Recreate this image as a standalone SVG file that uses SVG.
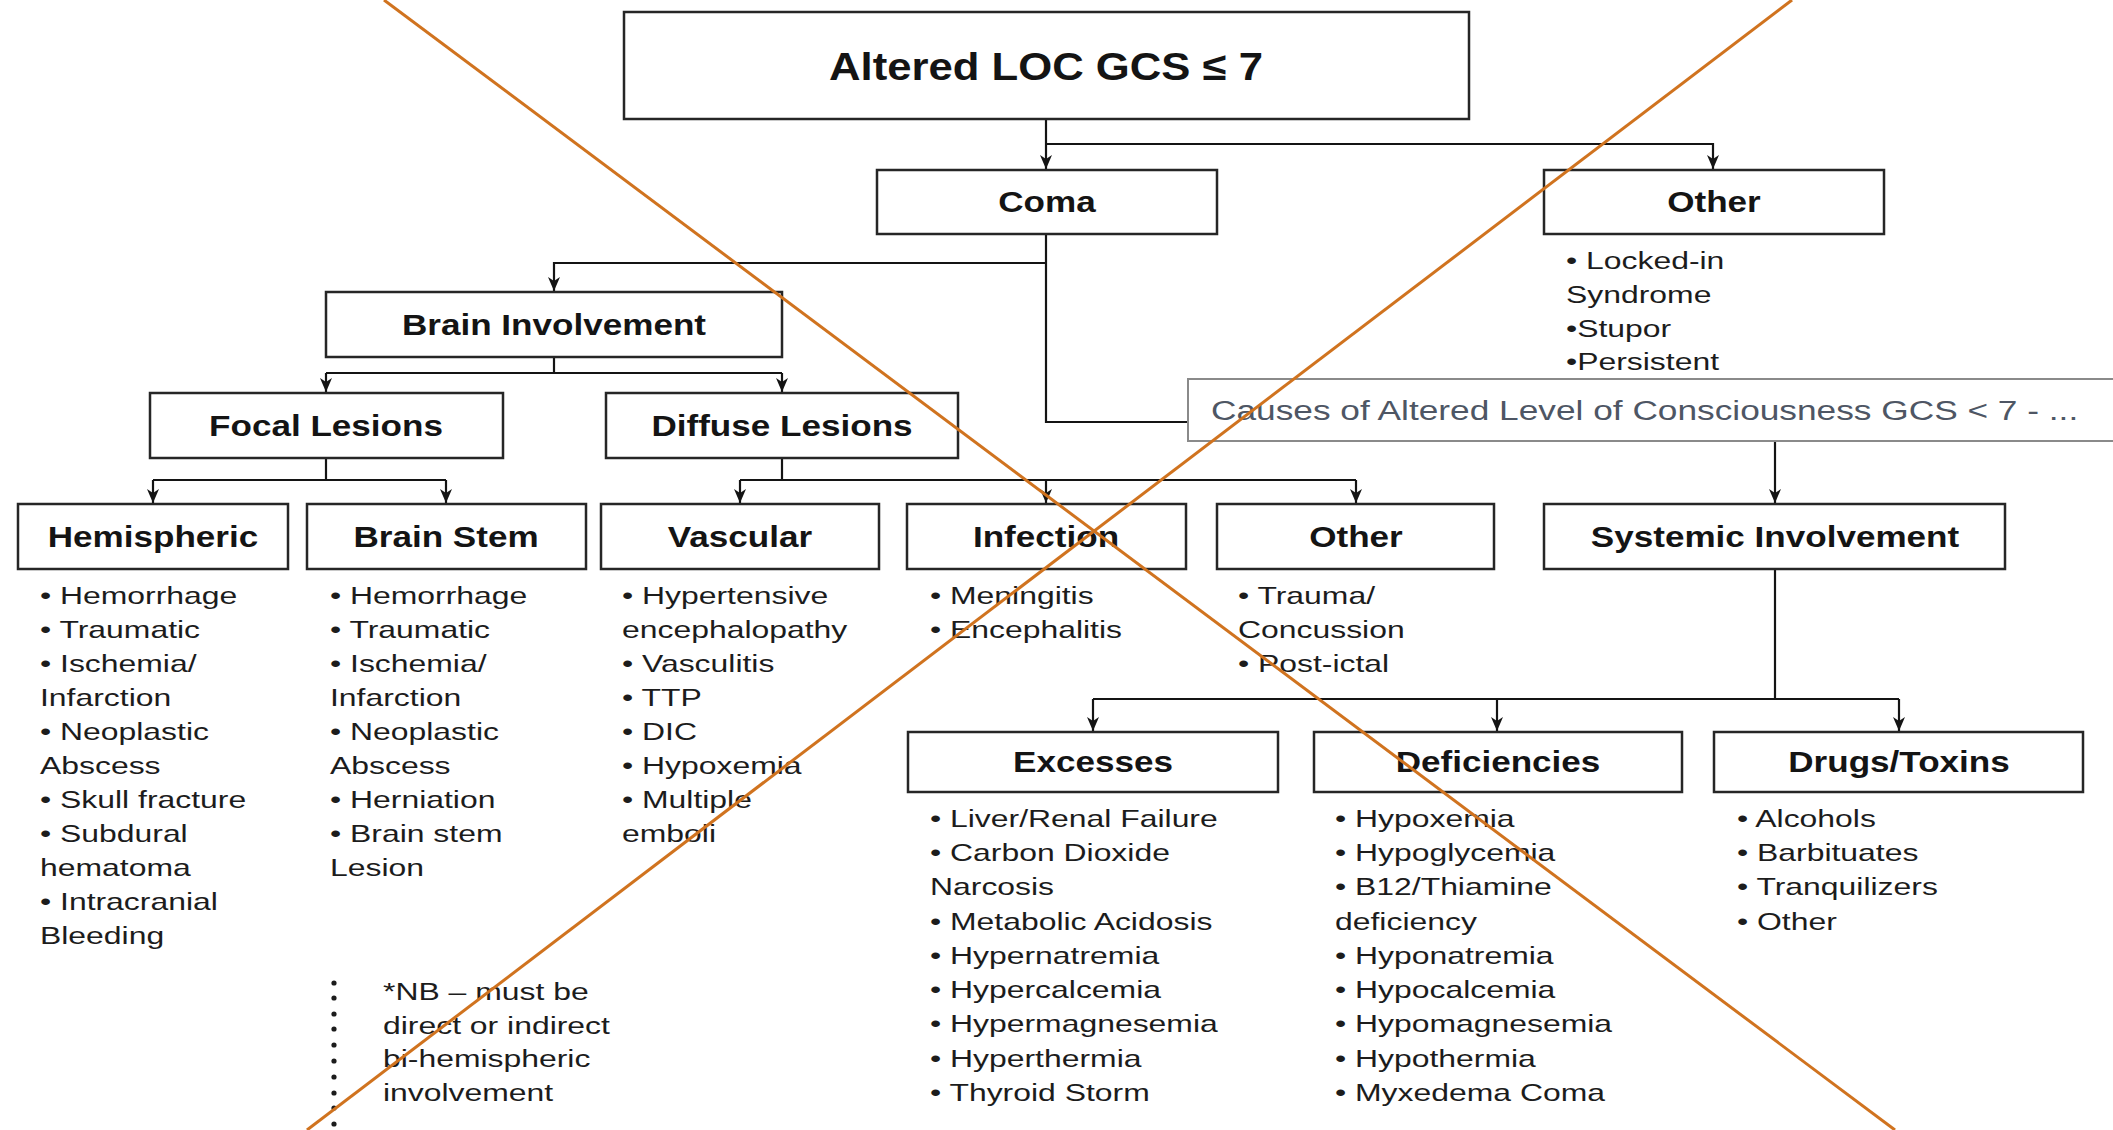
<svg xmlns="http://www.w3.org/2000/svg" width="2113" height="1130" viewBox="0 0 2113 1130">
<style>
.box{fill:#fff;stroke:#262626;stroke-width:2.5}
.lbl{font-family:"Liberation Sans",Arial,sans-serif;font-weight:bold;font-size:29px;fill:#141414;text-anchor:middle}
.ttl{font-family:"Liberation Sans",Arial,sans-serif;font-weight:bold;font-size:39px;fill:#141414;text-anchor:middle}
.it{font-family:"Liberation Sans",Arial,sans-serif;font-size:24px;fill:#1c1c1c}
.tip{font-family:"Liberation Sans",Arial,sans-serif;font-size:28px;fill:#4e5664}
.conn{stroke:#141414;stroke-width:2.2;fill:none}
.ar{stroke:#141414;stroke-width:2.2;fill:none;marker-end:url(#arr)}
.x{stroke:#d0731f;stroke-width:3;fill:none}
</style>
<defs>
<marker id="arr" markerUnits="userSpaceOnUse" markerWidth="15" markerHeight="12" refX="14" refY="6" viewBox="0 0 15 12" orient="auto">
<path d="M0,0 L14,6 L0,12 L4,6 Z" fill="#141414"/>
</marker>
</defs>
<rect width="2113" height="1130" fill="#fff"/>

<g id="connectors">
<path class="ar" d="M1046,119 V169"/>
<path class="ar" d="M1046,144 H1713 V169"/>
<path class="conn" d="M1046,234 V422 H1189"/>
<path class="ar" d="M1046,263 H554 V291"/>
<path class="ar" d="M1775,441 V503"/>
<path class="conn" d="M554,357 V373 M326,373 H782"/>
<path class="ar" d="M326,373 V392"/>
<path class="ar" d="M782,373 V392"/>
<path class="conn" d="M326,458 V480 M153,480 H446"/>
<path class="ar" d="M153,480 V503"/>
<path class="ar" d="M446,480 V503"/>
<path class="conn" d="M782,458 V480 M740,480 H1356"/>
<path class="ar" d="M740,480 V503"/>
<path class="ar" d="M1046,480 V503"/>
<path class="ar" d="M1356,480 V503"/>
<path class="conn" d="M1775,569 V699 M1093,699 H1899"/>
<path class="ar" d="M1093,699 V731"/>
<path class="ar" d="M1497,699 V731"/>
<path class="ar" d="M1899,699 V731"/>
</g>

<g id="root">
<rect class="box" x="624" y="12" width="845" height="107"/>
<g transform="translate(1046,80) scale(1.12,1)"><text class="ttl">Altered LOC GCS ≤ 7</text></g>
</g>

<g id="coma">
<rect class="box" x="877" y="170" width="340" height="64"/>
<g transform="translate(1047,212) scale(1.21,1)"><text class="lbl">Coma</text></g>
</g>

<g id="other-top">
<rect class="box" x="1544" y="170" width="340" height="64"/>
<g transform="translate(1714,212) scale(1.21,1)"><text class="lbl">Other</text></g>
<g transform="translate(1566,0) scale(1.33,1)">
<text class="it" x="0" y="269">• Locked-in</text>
<text class="it" x="0" y="303">Syndrome</text>
<text class="it" x="0" y="337">•Stupor</text>
<text class="it" x="0" y="370">•Persistent</text>
</g>
</g>

<g id="brain-involvement">
<rect class="box" x="326" y="292" width="456" height="65"/>
<g transform="translate(554,335) scale(1.21,1)"><text class="lbl">Brain Involvement</text></g>
</g>

<g id="focal">
<rect class="box" x="150" y="393" width="353" height="65"/>
<g transform="translate(326,436) scale(1.21,1)"><text class="lbl">Focal Lesions</text></g>
</g>

<g id="diffuse">
<rect class="box" x="606" y="393" width="352" height="65"/>
<g transform="translate(782,436) scale(1.21,1)"><text class="lbl">Diffuse Lesions</text></g>
</g>

<g id="hemispheric">
<rect class="box" x="18" y="504" width="270" height="65"/>
<g transform="translate(153,547) scale(1.21,1)"><text class="lbl">Hemispheric</text></g>
<g transform="translate(40,0) scale(1.33,1)">
<text class="it" x="0" y="604">• Hemorrhage</text>
<text class="it" x="0" y="638">• Traumatic</text>
<text class="it" x="0" y="672">• Ischemia/</text>
<text class="it" x="0" y="706">Infarction</text>
<text class="it" x="0" y="740">• Neoplastic</text>
<text class="it" x="0" y="774">Abscess</text>
<text class="it" x="0" y="808">• Skull fracture</text>
<text class="it" x="0" y="842">• Subdural</text>
<text class="it" x="0" y="876">hematoma</text>
<text class="it" x="0" y="910">• Intracranial</text>
<text class="it" x="0" y="944">Bleeding</text>
</g>
</g>

<g id="brain-stem">
<rect class="box" x="307" y="504" width="279" height="65"/>
<g transform="translate(446,547) scale(1.21,1)"><text class="lbl">Brain Stem</text></g>
<g transform="translate(330,0) scale(1.33,1)">
<text class="it" x="0" y="604">• Hemorrhage</text>
<text class="it" x="0" y="638">• Traumatic</text>
<text class="it" x="0" y="672">• Ischemia/</text>
<text class="it" x="0" y="706">Infarction</text>
<text class="it" x="0" y="740">• Neoplastic</text>
<text class="it" x="0" y="774">Abscess</text>
<text class="it" x="0" y="808">• Herniation</text>
<text class="it" x="0" y="842">• Brain stem</text>
<text class="it" x="0" y="876">Lesion</text>
</g>
</g>

<g id="vascular">
<rect class="box" x="601" y="504" width="278" height="65"/>
<g transform="translate(740,547) scale(1.21,1)"><text class="lbl">Vascular</text></g>
<g transform="translate(622,0) scale(1.33,1)">
<text class="it" x="0" y="604">• Hypertensive</text>
<text class="it" x="0" y="638">encephalopathy</text>
<text class="it" x="0" y="672">• Vasculitis</text>
<text class="it" x="0" y="706">• TTP</text>
<text class="it" x="0" y="740">• DIC</text>
<text class="it" x="0" y="774">• Hypoxemia</text>
<text class="it" x="0" y="808">• Multiple</text>
<text class="it" x="0" y="842">emboli</text>
</g>
</g>

<g id="infection">
<rect class="box" x="907" y="504" width="279" height="65"/>
<g transform="translate(1046,547) scale(1.21,1)"><text class="lbl">Infection</text></g>
<g transform="translate(930,0) scale(1.33,1)">
<text class="it" x="0" y="604">• Meningitis</text>
<text class="it" x="0" y="638">• Encephalitis</text>
</g>
</g>

<g id="other-mid">
<rect class="box" x="1217" y="504" width="277" height="65"/>
<g transform="translate(1356,547) scale(1.21,1)"><text class="lbl">Other</text></g>
<g transform="translate(1238,0) scale(1.33,1)">
<text class="it" x="0" y="604">• Trauma/</text>
<text class="it" x="0" y="638">Concussion</text>
<text class="it" x="0" y="672">• Post-ictal</text>
</g>
</g>

<g id="systemic">
<rect class="box" x="1544" y="504" width="461" height="65"/>
<g transform="translate(1775,547) scale(1.21,1)"><text class="lbl">Systemic Involvement</text></g>
</g>

<g id="excesses">
<rect class="box" x="908" y="732" width="370" height="60"/>
<g transform="translate(1093,772) scale(1.21,1)"><text class="lbl">Excesses</text></g>
<g transform="translate(930,0) scale(1.33,1)">
<text class="it" x="0" y="827">• Liver/Renal Failure</text>
<text class="it" x="0" y="861">• Carbon Dioxide</text>
<text class="it" x="0" y="895">Narcosis</text>
<text class="it" x="0" y="930">• Metabolic Acidosis</text>
<text class="it" x="0" y="964">• Hypernatremia</text>
<text class="it" x="0" y="998">• Hypercalcemia</text>
<text class="it" x="0" y="1032">• Hypermagnesemia</text>
<text class="it" x="0" y="1067">• Hyperthermia</text>
<text class="it" x="0" y="1101">• Thyroid Storm</text>
</g>
</g>

<g id="deficiencies">
<rect class="box" x="1314" y="732" width="368" height="60"/>
<g transform="translate(1498,772) scale(1.21,1)"><text class="lbl">Deficiencies</text></g>
<g transform="translate(1335,0) scale(1.33,1)">
<text class="it" x="0" y="827">• Hypoxemia</text>
<text class="it" x="0" y="861">• Hypoglycemia</text>
<text class="it" x="0" y="895">• B12/Thiamine</text>
<text class="it" x="0" y="930">deficiency</text>
<text class="it" x="0" y="964">• Hyponatremia</text>
<text class="it" x="0" y="998">• Hypocalcemia</text>
<text class="it" x="0" y="1032">• Hypomagnesemia</text>
<text class="it" x="0" y="1067">• Hypothermia</text>
<text class="it" x="0" y="1101">• Myxedema Coma</text>
</g>
</g>

<g id="drugs">
<rect class="box" x="1714" y="732" width="369" height="60"/>
<g transform="translate(1899,772) scale(1.21,1)"><text class="lbl">Drugs/Toxins</text></g>
<g transform="translate(1737,0) scale(1.33,1)">
<text class="it" x="0" y="827">• Alcohols</text>
<text class="it" x="0" y="861">• Barbituates</text>
<text class="it" x="0" y="895">• Tranquilizers</text>
<text class="it" x="0" y="930">• Other</text>
</g>
</g>

<g id="tooltip">
<rect x="1188" y="379" width="930" height="62" fill="#fff" stroke="#8a8a8a" stroke-width="2"/>
<g transform="translate(1211,420) scale(1.26,1)"><text class="tip">Causes of Altered Level of Consciousness GCS &lt; 7 - ...</text></g>
</g>

<g id="note">
<g fill="#1c1c1c">
<circle cx="334" cy="983" r="2.6"/><circle cx="334" cy="998" r="2.6"/><circle cx="334" cy="1014" r="2.6"/><circle cx="334" cy="1029" r="2.6"/><circle cx="334" cy="1045" r="2.6"/><circle cx="334" cy="1061" r="2.6"/><circle cx="334" cy="1077" r="2.6"/><circle cx="334" cy="1093" r="2.6"/><circle cx="334" cy="1108" r="2.6"/><circle cx="334" cy="1124" r="2.6"/>
</g>
<g transform="translate(383,0) scale(1.33,1)">
<text class="it" x="0" y="1000">*NB – must be</text>
<text class="it" x="0" y="1034">direct or indirect</text>
<text class="it" x="0" y="1067">bi-hemispheric</text>
<text class="it" x="0" y="1101">involvement</text>
</g>
</g>

<g id="cross">
<line class="x" x1="384" y1="0" x2="1895" y2="1130"/>
<line class="x" x1="1792" y1="0" x2="307" y2="1130"/>
</g>
</svg>
